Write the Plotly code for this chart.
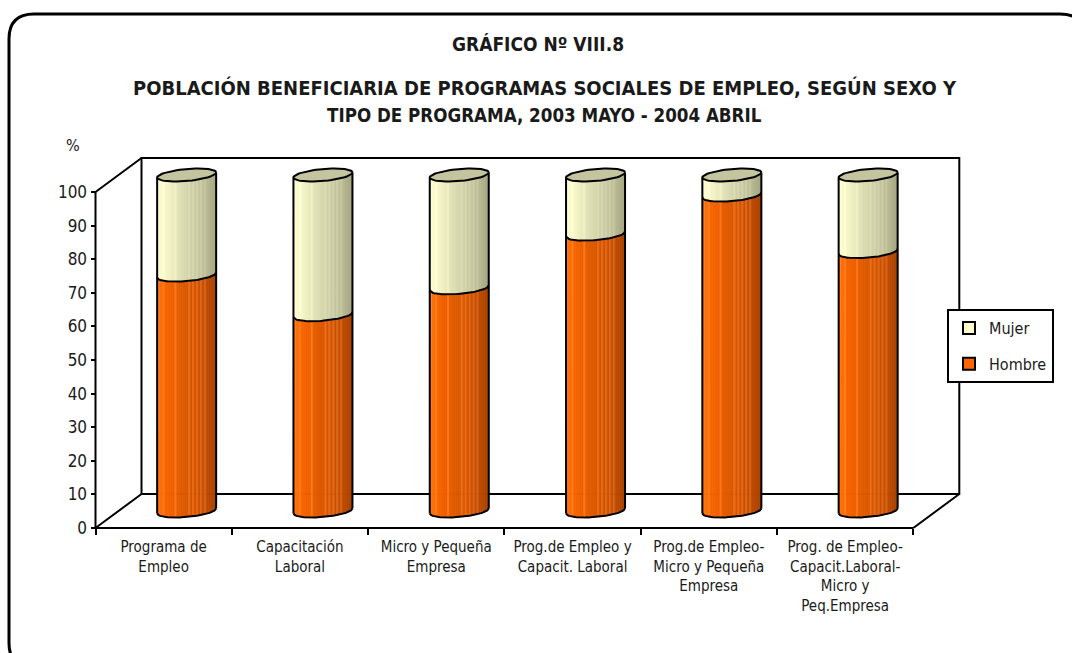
import numpy as np
import plotly.graph_objects as go

# ---- data -------------------------------------------------------------
categories = [
    "Programa de<br>Empleo",
    "Capacitación<br>Laboral",
    "Micro y Pequeña<br>Empresa",
    "Prog.de Empleo y<br>Capacit. Laboral",
    "Prog.de Empleo-<br>Micro y Pequeña<br>Empresa",
    "Prog. de Empleo-<br>Capacit.Laboral-<br>Micro y<br>Peq.Empresa",
]
hombre = [70.2, 58.4, 66.4, 82.4, 94.0, 77.2]
mujer = [29.8, 41.6, 33.6, 17.6, 6.0, 22.8]
y_ticks = list(range(0, 101, 10))

# ---- page / axis geometry --------------------------------------------
W, H = 1072, 653
ML, MR, MT, MB = 20, 20, 20, 20
PW, PH = W - ML - MR, H - MT - MB
PX_X = 136.3          # pixels per category
PX_Y = 3.36           # pixels per percent
FRONT_LEFT_PX = 95.5  # pixel column of the front value axis
ZERO_PX = 528.0       # pixel row of value 0 on the front plane

x0 = -0.5 - (FRONT_LEFT_PX - ML) / PX_X
x1 = x0 + PW / PX_X
y1 = (ZERO_PX - MT) / PX_Y
y0 = y1 - PH / PX_Y

# oblique depth of the 3-D box and cylinder shape (axis units)
DEPTH_X, DEPTH_Y = 46 / PX_X, 34 / PX_Y
HALF_X, HALF_Y = DEPTH_X / 2, DEPTH_Y / 2
RAD_X = 29.5 / PX_X
RAD_Y = 6.0 / PX_Y
TILT = 2.5 / PX_Y
N_STRIPS = 30
STREAKS = {3, 9, 16, 18, 20, 22, 24}   # thin lighter streaks on the cylinders

FONT = "Liberation Sans Narrow, Arial Narrow, DejaVu Sans Condensed, sans-serif"


def px_to_paper(px, py):
    return (px - ML) / PW, (H - MB - py) / PH


def lerp_color(stops, f, lift=0):
    for (fa, ca), (fb, cb) in zip(stops[:-1], stops[1:]):
        if fa <= f <= fb:
            u = (f - fa) / (fb - fa) if fb > fa else 0
            c = [min(255, round(ca[i] + (cb[i] - ca[i]) * u) + lift) for i in range(3)]
            return f"rgb({c[0]},{c[1]},{c[2]})"
    c = stops[-1][1]
    return f"rgb({c[0]},{c[1]},{c[2]})"


ORANGE = [(0.0, (255, 120, 20)), (0.12, (250, 102, 0)), (0.45, (222, 90, 0)),
          (0.8, (196, 78, 0)), (1.0, (168, 66, 0))]
CREAM = [(0.0, (255, 255, 212)), (0.15, (246, 246, 200)), (0.5, (214, 214, 174)),
         (0.8, (190, 190, 152)), (1.0, (165, 165, 130))]
CAP_FACE = "rgb(196,196,158)"


def front_arc(xs, cx, cy):
    c = np.clip((xs - cx) / RAD_X, -1, 1)
    return cy + TILT * c - RAD_Y * np.sqrt(1 - c * c)


def full_ellipse(cx, cy, n=60):
    t = np.linspace(0, 2 * np.pi, n)
    return cx + RAD_X * np.cos(t), cy + TILT * np.cos(t) + RAD_Y * np.sin(t)


fig = go.Figure()

# ---- back wall, side wall and floor edges (behind the cylinders) -----
bx0, bx1 = -0.5 + DEPTH_X, 5.5 + DEPTH_X
wall_x = [bx0, bx1, bx1, bx0, bx0, None,
          -0.5, bx0, None, -0.5, bx0, None, 5.5, bx1]
wall_y = [DEPTH_Y, DEPTH_Y, 100 + DEPTH_Y, 100 + DEPTH_Y, DEPTH_Y, None,
          0, DEPTH_Y, None, 100, 100 + DEPTH_Y, None, 0, DEPTH_Y]
fig.add_trace(go.Scatter(x=wall_x, y=wall_y, mode="lines",
                         line=dict(color="black", width=2),
                         showlegend=False, hoverinfo="skip"))

# ---- shaded cylinder bodies ------------------------------------------
segments = [(hombre, [0.0] * len(hombre), ORANGE, 22), (mujer, hombre, CREAM, 10)]
for values, bases, stops, lift in segments:
    for k in range(N_STRIPS):
        f = (k + 0.5) / N_STRIPS
        xs_all, ys_all = [], []
        for i, (v, b) in enumerate(zip(values, bases)):
            cx = i + HALF_X
            lo, hi = HALF_Y + b, HALF_Y + b + v
            ex = np.linspace(cx - RAD_X + 2 * RAD_X * k / N_STRIPS,
                             cx - RAD_X + 2 * RAD_X * (k + 1) / N_STRIPS, 4)
            px = list(ex) + list(ex[::-1])
            py = list(front_arc(ex, cx, lo)) + list(front_arc(ex[::-1], cx, hi))
            xs_all += px + [px[0], None]
            ys_all += py + [py[0], None]
        col = lerp_color(stops, f, lift if k in STREAKS else 0)
        fig.add_trace(go.Scatter(x=xs_all, y=ys_all, mode="lines", fill="toself",
                                 fillcolor=col, line=dict(color=col, width=0.8),
                                 showlegend=False, hoverinfo="skip"))

# ---- cylinder tops ----------------------------------------------------
cap_x, cap_y = [], []
for i, (h, m) in enumerate(zip(hombre, mujer)):
    ex, ey = full_ellipse(i + HALF_X, HALF_Y + h + m)
    cap_x += list(ex) + [None]
    cap_y += list(ey) + [None]
fig.add_trace(go.Scatter(x=cap_x, y=cap_y, mode="lines", fill="toself",
                         fillcolor=CAP_FACE, line=dict(color="black", width=2),
                         showlegend=False, hoverinfo="skip"))

# ---- cylinder outlines -----------------------------------------------
ol_x, ol_y = [], []
for i, (h, m) in enumerate(zip(hombre, mujer)):
    cx = i + HALF_X
    bot, mid, top = HALF_Y, HALF_Y + h, HALF_Y + h + m
    ex = np.linspace(cx - RAD_X, cx + RAD_X, 40)
    ol_x += [cx - RAD_X, cx - RAD_X, None, cx + RAD_X, cx + RAD_X, None]
    ol_y += [bot - TILT, top - TILT, None, bot + TILT, top + TILT, None]
    for lvl in (bot, mid):
        ol_x += list(ex) + [None]
        ol_y += list(front_arc(ex, cx, lvl)) + [None]
fig.add_trace(go.Scatter(x=ol_x, y=ol_y, mode="lines",
                         line=dict(color="black", width=2),
                         showlegend=False, hoverinfo="skip"))

# ---- front value axis and front floor edge ---------------------------
fig.add_trace(go.Scatter(x=[-0.5, -0.5, None, -0.5, 5.5],
                         y=[100, 0, None, 0, 0], mode="lines",
                         line=dict(color="black", width=2),
                         showlegend=False, hoverinfo="skip"))

# tick marks between categories
fig.add_trace(go.Scatter(x=[None], y=[None], xaxis="x2", showlegend=False,
                         hoverinfo="skip"))

# ---- legend entries ---------------------------------------------------
fig.add_trace(go.Bar(x=[None], y=[None], name="Mujer", legendgroup="m",
                     marker=dict(color="rgb(255,255,204)",
                                 line=dict(color="black", width=2))))
fig.add_trace(go.Bar(x=[None], y=[None], name="Hombre", legendgroup="h",
                     marker=dict(color="rgb(255,102,0)",
                                 line=dict(color="black", width=2))))

# ---- titles and frame -------------------------------------------------
annotations = []
for text, (tx, ty), size in [
    ("<b>GRÁFICO Nº VIII.8</b>", (538, 44), 19),
    ("<b>POBLACIÓN BENEFICIARIA DE PROGRAMAS SOCIALES DE EMPLEO, SEGÚN SEXO Y</b>", (545, 88), 20),
    ("<b>TIPO DE PROGRAMA, 2003 MAYO - 2004 ABRIL</b>", (544, 116), 18.6),
]:
    ax, ay = px_to_paper(tx, ty)
    annotations.append(dict(text=text, x=ax, y=ay, xref="paper", yref="paper",
                            xanchor="center", yanchor="middle", showarrow=False,
                            font=dict(family=FONT, size=size, color="#1a1a1a")))
ax, ay = px_to_paper(73, 145)
annotations.append(dict(text="%", x=ax, y=ay, xref="paper", yref="paper",
                        xanchor="center", yanchor="middle", showarrow=False,
                        font=dict(family=FONT, size=16, color="#1a1a1a")))

# rounded page border (runs off the right and bottom edges)
L, T, R, B, RAD = 9, 14, 1085, 668, 25
pts = {
    "a": px_to_paper(L, T + RAD), "b": px_to_paper(L, T), "c": px_to_paper(L + RAD, T),
    "d": px_to_paper(R - RAD, T), "e": px_to_paper(R, T), "f": px_to_paper(R, T + RAD),
    "g": px_to_paper(R, B - RAD), "h": px_to_paper(R, B), "i": px_to_paper(R - RAD, B),
    "j": px_to_paper(L + RAD, B), "k": px_to_paper(L, B), "l": px_to_paper(L, B - RAD),
}
p = lambda k: f"{pts[k][0]:.5f},{pts[k][1]:.5f}"
path = (f"M{p('a')} Q{p('b')} {p('c')} L{p('d')} Q{p('e')} {p('f')} "
        f"L{p('g')} Q{p('h')} {p('i')} L{p('j')} Q{p('k')} {p('l')} Z")
shapes = [dict(type="path", path=path, xref="paper", yref="paper",
               line=dict(color="black", width=3), fillcolor="rgba(0,0,0,0)")]

lx, ly = px_to_paper(947, 309)
yax_pos, _ = px_to_paper(FRONT_LEFT_PX, 0)
_, xax_pos = px_to_paper(0, ZERO_PX)

fig.update_layout(
    width=W, height=H,
    margin=dict(l=ML, r=MR, t=MT, b=MB),
    paper_bgcolor="white", plot_bgcolor="white",
    font=dict(family=FONT, color="#1a1a1a"),
    xaxis=dict(range=[x0, x1], anchor="free", position=xax_pos,
               tickvals=list(range(len(categories))), ticktext=categories,
               ticks="", showgrid=False, zeroline=False, showline=False,
               tickfont=dict(size=15), ticklabelstandoff=8, fixedrange=True),
    xaxis2=dict(range=[x0, x1], overlaying="x", anchor="free", position=xax_pos,
                tickvals=[k - 0.5 for k in range(len(categories) + 1)],
                ticks="outside", ticklen=6, tickwidth=1.5, tickcolor="black",
                showticklabels=False, showgrid=False, zeroline=False,
                showline=False, fixedrange=True),
    yaxis=dict(range=[y0, y1], anchor="free", position=yax_pos,
               tickvals=y_ticks, ticks="outside", ticklen=5, tickwidth=1.5,
               tickcolor="black", showgrid=False, zeroline=False, showline=False,
               tickfont=dict(size=17), fixedrange=True),
    legend=dict(x=lx, y=ly, xanchor="left", yanchor="top",
                bordercolor="black", borderwidth=2, bgcolor="white",
                font=dict(size=16), tracegroupgap=12, traceorder="grouped"),
    bargap=0.5,
    annotations=annotations,
    shapes=shapes,
    hovermode=False,
)

fig.write_html("out.html")
